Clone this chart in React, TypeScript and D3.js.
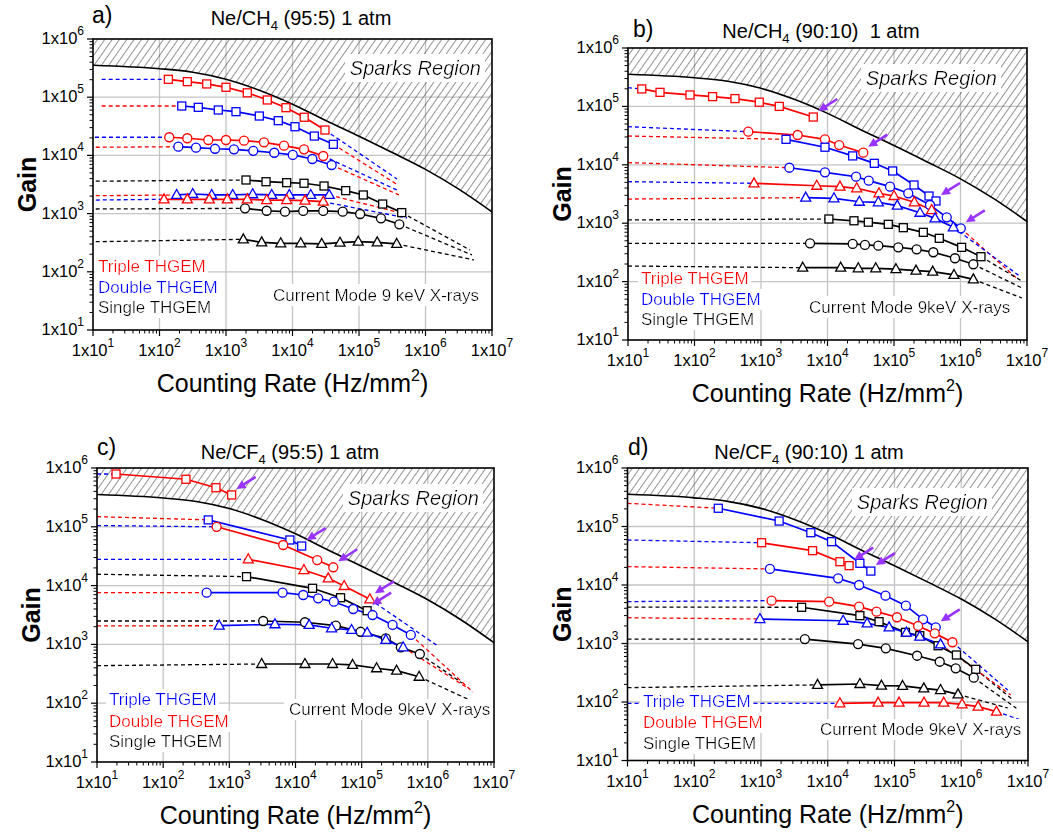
import React from 'react';
import * as d3 from 'd3';

const FONT = "'Liberation Sans', Arial, Helvetica, sans-serif";
const RED = '#ff0000';
const BLUE = '#0000ff';
const BLACK = '#000000';
const PURPLE = '#9933ff';

// spark limit curve (shared by all panels)
const SPARK_X = [10, 100, 316, 1000, 3160, 1e4, 3.16e4, 1e5, 3.16e5, 1e6, 3.16e6, 1e7];
const SPARK_Y = [3.55e5, 3.09e5, 2.69e5, 2.04e5, 1.32e5, 7.59e4, 3.98e4, 2.14e4, 1.12e4, 5.75e3, 2.63e3, 1.07e3];

const X_TICKS = [10, 100, 1e3, 1e4, 1e5, 1e6, 1e7];
const Y_TICKS = [10, 100, 1e3, 1e4, 1e5, 1e6];

// ---------- Panel a : Ne/CH4 (95:5) ----------
const A_TSQ_X = [136, 262, 513, 1000, 2090, 4180, 7980, 15000, 30800];
const A_TSQ_Y = [2.03e5, 1.85e5, 1.69e5, 1.48e5, 1.19e5, 8.96e4, 6.6e4, 4.52e4, 2.73e4];
const A_DSQ_X = [216, 383, 766, 1413, 3170, 6110, 10900, 21300, 41100];
const A_DSQ_Y = [7.06e4, 6.7e4, 6.03e4, 5.64e4, 4.75e4, 3.95e4, 3.11e4, 2.15e4, 1.55e4];
const A_TCI_X = [140, 262, 542, 1000, 1866, 3724, 7450, 14900, 29000];
const A_TCI_Y = [2.05e4, 1.97e4, 1.84e4, 1.84e4, 1.79e4, 1.68e4, 1.47e4, 1.27e4, 9.77e3];
const A_DCI_X = [192, 354, 684, 1318, 2570, 5320, 10100, 19900, 38800];
const A_DCI_Y = [1.41e4, 1.36e4, 1.3e4, 1.27e4, 1.2e4, 1.11e4, 1.02e4, 8.67e3, 6.84e3];
const A_TTR_X = [117, 262, 561, 1047, 2089, 4090, 8180, 15400, 29000];
const A_TTR_Y = [1.76e3, 1.76e3, 1.76e3, 1.76e3, 1.76e3, 1.71e3, 1.71e3, 1.67e3, 1.6e3];
const A_DTR_X = [181, 316, 609, 1262, 2520, 4870, 8950, 18800, 35700];
const A_DTR_Y = [2.09e3, 2.17e3, 2.09e3, 2.09e3, 2.15e3, 2.09e3, 2.09e3, 2.09e3, 2.09e3];
const A_SSQ_X = [2000, 4000, 8180, 14900, 29800, 63100, 116000, 227000, 439000];
const A_SSQ_Y = [3.78e3, 3.53e3, 3.4e3, 3.32e3, 2.98e3, 2.48e3, 2.09e3, 1.46e3, 1.04e3];
const A_SCI_X = [1932, 4090, 7710, 14500, 29000, 56900, 104000, 214000, 404000];
const A_SCI_Y = [1.23e3, 1.12e3, 1.08e3, 1.11e3, 1.11e3, 1.08e3, 984, 830, 655];
const A_STR_X = [1820, 3440, 6650, 13300, 27500, 51800, 97500, 188000, 369000];
const A_STR_Y = [361, 321, 309, 309, 301, 316, 329, 321, 301];

// ---------- Panel b : Ne/CH4 (90:10) ----------
const B_TSQ_X = [16.1, 30.3, 85.5, 187, 406, 942, 1884, 6110];
const B_TSQ_Y = [1.99e5, 1.74e5, 1.57e5, 1.47e5, 1.36e5, 1.18e5, 1.0e5, 6.58e4];
const B_TCI_X = [644, 3560, 9160, 15000, 34500];
const B_TCI_Y = [3.69e4, 3.24e4, 2.73e4, 2.18e4, 1.61e4];
const B_DSQ_X = [2380, 9160, 23900, 50600, 95500, 200000, 336000, 428000];
const B_DSQ_Y = [2.73e4, 2.0e4, 1.42e4, 1.06e4, 7.84e3, 4.51e3, 2.92e3, 2.4e3];
const B_DCI_X = [2670, 9160, 26900, 41700, 87100, 164000, 348000, 621000, 1010000];
const B_DCI_Y = [8.91e3, 7.44e3, 6.25e3, 5.35e3, 4.22e3, 3.25e3, 2.05e3, 1.26e3, 818];
const B_TTR_X = [785, 6890, 15400, 27500, 59400, 100000, 202000, 369000];
const B_TTR_Y = [4.82e3, 4.38e3, 4.22e3, 3.96e3, 3.25e3, 2.92e3, 2.28e3, 1.68e3];
const B_DTR_X = [4700, 12500, 30100, 58100, 112000, 246000, 414000, 780000];
const B_DTR_Y = [2.74e3, 2.67e3, 2.33e3, 2.28e3, 2.0e3, 1.51e3, 1.21e3, 851];
const B_SSQ_X = [10500, 25000, 41100, 82000, 138000, 276000, 480000, 1040000, 2030000];
const B_SSQ_Y = [1.18e3, 1.1e3, 1.04e3, 957, 838, 698, 551, 386, 267];
const B_SCI_X = [5460, 23900, 36600, 58100, 116000, 219000, 390000, 826000, 1560000];
const B_SCI_Y = [453, 441, 424, 412, 387, 357, 318, 251, 198];
const B_STR_X = [4240, 15800, 29000, 53100, 107000, 214000, 382000, 798000, 1560000];
const B_STR_Y = [173, 173, 169, 169, 163, 154, 148, 130, 109];

// ---------- Panel c : Ne/CF4 (95:5) ----------
const C_DSQ_X = [19.4, 221, 628, 1083];
const C_DSQ_Y = [7.91e5, 6.43e5, 4.62e5, 3.48e5];
const C_TSQ_X = [480, 8220, 12400];
const C_TSQ_Y = [1.31e5, 5.97e4, 4.71e4];
const C_DCI_X = [643, 6520, 21300, 37200];
const C_DCI_Y = [1.0e5, 4.9e4, 2.72e4, 2.05e4];
const C_DTR_X = [1930, 13400, 31200, 54400, 133000];
const C_DTR_Y = [2.8e4, 1.84e4, 1.33e4, 9.84e3, 5.85e3];
const C_SSQ_X = [1820, 18100, 48000, 121000];
const C_SSQ_Y = [1.42e4, 9.0e3, 6.22e3, 3.74e3];
const C_TCI_X = [454, 6380, 13100, 22000, 38000, 74500, 146000, 293000, 553000];
const C_TCI_Y = [7.57e3, 7.57e3, 6.92e3, 6.08e3, 5.32e3, 4.0e3, 3.16e3, 2.14e3, 1.45e3];
const C_TTR_X = [703, 4890, 16100, 35100, 70300, 121000, 232000, 424000];
const C_TTR_Y = [2.08e3, 2.2e3, 2.14e3, 1.88e3, 1.76e3, 1.58e3, 1.19e3, 893];
const C_SCI_X = [3250, 13900, 40700, 96200, 232000, 391000, 757000];
const C_SCI_Y = [2.5e3, 2.38e3, 2.08e3, 1.64e3, 1.27e3, 893, 687];
const C_STR_X = [3080, 13900, 36300, 72900, 168000, 337000, 739000];
const C_STR_Y = [464, 464, 464, 447, 393, 357, 282];

// ---------- Panel d : Ne/CF4 (90:10) ----------
const D_TSQ_X = [229, 1870, 5580, 11400, 30300, 44200];
const D_TSQ_Y = [2.05e5, 1.24e5, 7.83e4, 5.5e4, 2.35e4, 1.73e4];
const D_DSQ_X = [1020, 5920, 15200, 20900];
const D_DSQ_Y = [5.28e4, 3.86e4, 2.5e4, 2.14e4];
const D_TCI_X = [1360, 14300, 29500, 73300, 148000, 268000, 415000];
const D_TCI_Y = [1.88e4, 1.3e4, 1.0e4, 6.56e3, 4.43e3, 2.59e3, 1.89e3];
const D_DCI_X = [1440, 10500, 29500, 53800, 109000, 226000, 401000, 738000];
const D_DCI_Y = [5.4e3, 5.19e3, 4.26e3, 3.5e3, 2.81e3, 1.99e3, 1.49e3, 1.05e3];
const D_SSQ_X = [4060, 30300, 58700, 146000, 239000, 450000, 847000, 1650000];
const D_SSQ_Y = [4.16e3, 2.99e3, 2.36e3, 1.55e3, 1.36e3, 916, 636, 362];
const D_TTR_X = [964, 17000, 38900, 83000, 151000, 239000, 489000];
const D_TTR_Y = [2.62e3, 2.45e3, 2.21e3, 1.89e3, 1.53e3, 1.31e3, 968];
const D_SCI_X = [4540, 28500, 74100, 218000, 476000, 827000, 1540000];
const D_SCI_Y = [1.19e3, 979, 827, 618, 488, 377, 260];
const D_STR_X = [7030, 30300, 63800, 132000, 275000, 489000, 895000];
const D_STR_Y = [196, 203, 190, 188, 171, 160, 135];
const D_DTR_X = [15200, 56800, 117000, 277000, 547000, 1030000, 1790000, 3370000];
const D_DTR_Y = [95.1, 97.3, 97.3, 97.3, 97.3, 91.4, 83.2, 68.3];

type Pt = [number, number] | null;
interface Series {
  x: number[]; y: number[]; color: string; marker: 'sq' | 'ci' | 'tr';
  left: Pt; leftColor: string; right: Pt; rightColor: string; arrow: boolean;
}
const other = (c: string) => (c === RED ? BLUE : c === BLUE ? RED : BLACK);
function S(x: number[], y: number[], color: string, marker: 'sq' | 'ci' | 'tr', left: Pt, right: Pt, arrow = false, rightColor?: string): Series {
  return { x, y, color, marker, left, leftColor: other(color), right, rightColor: rightColor || other(color), arrow };
}

const SERIES_A: Series[] = [
  S(A_TSQ_X, A_TSQ_Y, RED, 'sq', [13.5, 2.03e5], [3.72e5, 3.94e3]),
  S(A_DSQ_X, A_DSQ_Y, BLUE, 'sq', [13.5, 7.06e4], [3.85e5, 3.1e3]),
  S(A_TCI_X, A_TCI_Y, RED, 'ci', [10.7, 2.05e4], [3.72e5, 2.54e3]),
  S(A_DCI_X, A_DCI_Y, BLUE, 'ci', [11, 1.38e4], [4.0e5, 2.09e3]),
  S(A_SSQ_X, A_SSQ_Y, BLACK, 'sq', [11, 3.6e3], [4.67e6, 237]),
  S(A_SCI_X, A_SCI_Y, BLACK, 'ci', [11, 1.2e3], [5.0e6, 195]),
  S(A_STR_X, A_STR_Y, BLACK, 'tr', [11, 329], [5.36e6, 160]),
  S(A_DTR_X, A_DTR_Y, BLUE, 'tr', [11, 2.03e3], [4.92e5, 984]),
  S(A_TTR_X, A_TTR_Y, RED, 'tr', [11, 1.71e3], [5.27e5, 840]),
];
const SERIES_B: Series[] = [
  S(B_TSQ_X, B_TSQ_Y, RED, 'sq', [10, 2.09e5], null, true),
  S(B_TCI_X, B_TCI_Y, RED, 'ci', [10, 4.49e4], null, true),
  S(B_DSQ_X, B_DSQ_Y, BLUE, 'sq', [10, 3.11e4], null, true),
  S(B_DCI_X, B_DCI_Y, BLUE, 'ci', [10, 1.09e4], [7.19e6, 111], true),
  S(B_TTR_X, B_TTR_Y, RED, 'tr', [10, 5.14e3], null),
  S(B_DTR_X, B_DTR_Y, BLUE, 'tr', [10, 2.59e3], [7.71e6, 125], false, BLUE),
  S(B_SSQ_X, B_SSQ_Y, BLACK, 'sq', [10, 1.14e3], [8.41e6, 102]),
  S(B_SCI_X, B_SCI_Y, BLACK, 'ci', [10, 453], [8.41e6, 77.6]),
  S(B_STR_X, B_STR_Y, BLACK, 'tr', [10, 185], [8.41e6, 52.4]),
];
const SERIES_C: Series[] = [
  S(C_DSQ_X, C_DSQ_Y, RED, 'sq', [10, 7.9e5], null, true),
  S(C_TSQ_X, C_TSQ_Y, BLUE, 'sq', [10, 1.49e5], null, true),
  S(C_DCI_X, C_DCI_Y, RED, 'ci', [10, 1.05e5], null, true),
  S(C_DTR_X, C_DTR_Y, RED, 'tr', [10, 2.8e4], [1.35e6, 977], true),
  S(C_SSQ_X, C_SSQ_Y, BLACK, 'sq', [10, 1.56e4], null, true),
  S(C_TCI_X, C_TCI_Y, BLUE, 'ci', [10, 7.57e3], [4.79e6, 155]),
  S(C_SCI_X, C_SCI_Y, BLACK, 'ci', [10, 2.5e3], [3.27e6, 221]),
  S(C_TTR_X, C_TTR_Y, BLUE, 'tr', [10, 2.06e3], [4.02e6, 181]),
  S(C_STR_X, C_STR_Y, BLACK, 'tr', [10, 435], [4.31e6, 113]),
];
const SERIES_D: Series[] = [
  S(D_TSQ_X, D_TSQ_Y, BLUE, 'sq', [10, 2.49e5], null, true),
  S(D_DSQ_X, D_DSQ_Y, RED, 'sq', [10, 5.88e4], null, true),
  S(D_TCI_X, D_TCI_Y, BLUE, 'ci', [10, 2.06e4], null, true),
  S(D_DCI_X, D_DCI_Y, RED, 'ci', [10, 5.2e3], [4.97e6, 160]),
  S(D_SSQ_X, D_SSQ_Y, BLACK, 'sq', [10, 4.2e3], [5.97e6, 108]),
  S(D_TTR_X, D_TTR_Y, BLUE, 'tr', [10, 2.76e3], [5.51e6, 132]),
  S(D_SCI_X, D_SCI_Y, BLACK, 'ci', [10, 1.19e3], [6.7e6, 78]),
  S(D_STR_X, D_STR_Y, BLACK, 'tr', [10, 176], [4.97e6, 79]),
  S(D_DTR_X, D_DTR_Y, RED, 'tr', [10, 95], [7.83e6, 49.2]),
];

const LEG_RBK = [['Triple THGEM', RED], ['Double THGEM', BLUE], ['Single THGEM', BLACK]];
const LEG_BRK = [['Triple THGEM', BLUE], ['Double THGEM', RED], ['Single THGEM', BLACK]];

interface PanelCfg {
  id: string; x0: number; x1: number; y0: number; y1: number;
  label: string; labelX: number; labelY: number;
  gas: string; sub: string; rest: string; titleX: number; titleY: number;
  sparkRight: number; sparkY: number;
  legX: number; legY: number[]; legend: string[][];
  noteX: number; noteY: number; note: string;
  series: Series[];
}

const PANELS: PanelCfg[] = [
  { id: 'a', x0: 93, x1: 492, y0: 39, y1: 330, label: 'a)', labelX: 92, labelY: 23,
    gas: 'Ne/CH', sub: '4', rest: ' (95:5) 1 atm', titleX: 301, titleY: 24.5,
    sparkRight: 481, sparkY: 75, legX: 98, legY: [272, 293, 313], legend: LEG_RBK,
    noteX: 273, noteY: 300.5, note: 'Current Mode 9 keV X-rays', series: SERIES_A },
  { id: 'b', x0: 628, x1: 1027, y0: 48, y1: 340, label: 'b)', labelX: 633, labelY: 37,
    gas: 'Ne/CH', sub: '4', rest: ' (90:10)  1 atm', titleX: 821, titleY: 38,
    sparkRight: 997, sparkY: 85, legX: 641, legY: [284, 305, 325], legend: LEG_RBK,
    noteX: 809, noteY: 312.5, note: 'Current Mode 9keV X-rays', series: SERIES_B },
  { id: 'c', x0: 97, x1: 494, y0: 468, y1: 762, label: 'c)', labelX: 97, labelY: 455,
    gas: 'Ne/CF', sub: '4', rest: ' (95:5) 1 atm', titleX: 290, titleY: 459,
    sparkRight: 479, sparkY: 505, legX: 109, legY: [705, 727, 747], legend: LEG_BRK,
    noteX: 289, noteY: 715, note: 'Current Mode 9keV X-rays', series: SERIES_C },
  { id: 'd', x0: 627.5, x1: 1028, y0: 468, y1: 760.5, label: 'd)', labelX: 628, labelY: 455,
    gas: 'Ne/CF', sub: '4', rest: ' (90:10) 1 atm', titleX: 809, titleY: 459,
    sparkRight: 988, sparkY: 509, legX: 643, legY: [707, 728, 749], legend: LEG_BRK,
    noteX: 820, noteY: 735, note: 'Current Mode 9keV X-rays', series: SERIES_D },
];

function Marker({ kind, cx, cy, color }: { kind: string; cx: number; cy: number; color: string }) {
  const common = { fill: '#fff', stroke: color, strokeWidth: 1.3 };
  if (kind === 'sq') return <rect x={cx - 4} y={cy - 4} width={8} height={8} {...common} />;
  if (kind === 'ci') return <circle cx={cx} cy={cy} r={4.5} {...common} />;
  return <path d={`M${cx},${cy - 5.5}L${cx + 5},${cy + 3.5}L${cx - 5},${cy + 3.5}Z`} {...common} />;
}

function Arrow({ px, py }: { px: number; py: number }) {
  const tx = px + 5, ty = py - 6;
  const sx = tx + 19, sy = ty - 12;
  const dx = tx - sx, dy = ty - sy;
  const len = Math.hypot(dx, dy);
  const ux = dx / len, uy = dy / len;
  const hl = 9, hw = 4.5;
  const bx = tx - ux * hl, by = ty - uy * hl;
  return (
    <g>
      <line x1={sx} y1={sy} x2={bx + ux} y2={by + uy} stroke={PURPLE} strokeWidth={2.6} />
      <path d={`M${tx},${ty}L${bx - uy * hw},${by + ux * hw}L${bx + uy * hw},${by - ux * hw}Z`} fill={PURPLE} />
    </g>
  );
}

function Panel({ p }: { p: PanelCfg }) {
  const xs = d3.scaleLog().domain([10, 1e7]).range([p.x0, p.x1]);
  const ys = d3.scaleLog().domain([10, 1e6]).range([p.y1, p.y0]);
  const clipId = 'clip-' + p.id;
  const sparkPts: [number, number][] = SPARK_X.map((x, i) => [xs(x), ys(SPARK_Y[i])]);
  const curvePath = d3.line().curve(d3.curveMonotoneX)(sparkPts) as string;
  const hatchPath = `${curvePath}L${p.x1},${p.y0}L${p.x0},${p.y0}Z`;

  const minorX: number[] = [];
  for (let e = 1; e < 7; e++) for (let k = 2; k <= 9; k++) minorX.push(k * Math.pow(10, e));
  const minorY: number[] = [];
  for (let e = 1; e < 6; e++) for (let k = 2; k <= 9; k++) minorY.push(k * Math.pow(10, e));

  const line = d3.line<number>();
  const gridColor = '#c4c4c4';
  return (
    <g>
      <defs>
        <clipPath id={clipId}>
          <rect x={p.x0} y={p.y0} width={p.x1 - p.x0} height={p.y1 - p.y0} />
        </clipPath>
      </defs>
      {/* grid */}
      {X_TICKS.slice(1, -1).map((t) => (
        <line key={'gx' + t} x1={xs(t)} x2={xs(t)} y1={p.y0} y2={p.y1} stroke={gridColor} strokeWidth={1.3} />
      ))}
      {Y_TICKS.slice(1, -1).map((t) => (
        <line key={'gy' + t} x1={p.x0} x2={p.x1} y1={ys(t)} y2={ys(t)} stroke={gridColor} strokeWidth={1.3} />
      ))}
      {/* sparks region */}
      <g clipPath={`url(#${clipId})`}>
        <path d={hatchPath} fill="url(#hatch)" stroke="none" />
        <path d={curvePath} fill="none" stroke="#000" strokeWidth={1.6} />
        {/* extensions */}
        {p.series.map((s, i) => (
          <g key={'ext' + i}>
            {s.left && (
              <line x1={xs(s.left[0])} y1={ys(s.left[1])} x2={xs(s.x[0])} y2={ys(s.y[0])}
                stroke={s.leftColor} strokeWidth={1.3} strokeDasharray="4,3" />
            )}
            {s.right && (
              <line x1={xs(s.x[s.x.length - 1])} y1={ys(s.y[s.y.length - 1])} x2={xs(s.right[0])} y2={ys(s.right[1])}
                stroke={s.rightColor} strokeWidth={1.3} strokeDasharray="4,3" />
            )}
          </g>
        ))}
      </g>
      {/* sparks label */}
      <text x={p.sparkRight} y={p.sparkY} textAnchor="end" fontSize={20} fontStyle="italic" filter="url(#wbg2)">Sparks Region</text>
      {/* legend and note */}
      {p.legend.map((l, i) => (
        <text key={'lg' + i} x={p.legX} y={p.legY[i]} fontSize={17} fill={l[1]} filter="url(#wbg)">{l[0]}</text>
      ))}
      <text x={p.noteX} y={p.noteY} fontSize={17} fill="#000" filter="url(#wbg)">{p.note}</text>
      {/* data lines */}
      <g clipPath={`url(#${clipId})`}>
        {p.series.map((s, i) => (
          <path key={'ln' + i} d={line.x((_, j) => xs(s.x[j])).y((_, j) => ys(s.y[j]))(s.x) as string}
            fill="none" stroke={s.color} strokeWidth={1.7} />
        ))}
        {p.series.map((s, i) => (
          <g key={'mk' + i}>
            {s.x.map((xv, j) => (
              <Marker key={j} kind={s.marker} cx={xs(xv)} cy={ys(s.y[j])} color={s.color} />
            ))}
          </g>
        ))}
      </g>
      {p.series.filter((s) => s.arrow).map((s, i) => (
        <Arrow key={'ar' + i} px={xs(s.x[s.x.length - 1])} py={ys(s.y[s.y.length - 1])} />
      ))}
      {/* frame */}
      <rect x={p.x0} y={p.y0} width={p.x1 - p.x0} height={p.y1 - p.y0} fill="none" stroke="#000" strokeWidth={1.6} />
      {/* ticks */}
      {X_TICKS.map((t) => (
        <line key={'tx' + t} x1={xs(t)} x2={xs(t)} y1={p.y1} y2={p.y1 + 6} stroke="#000" strokeWidth={1.2} />
      ))}
      {minorX.map((t) => (
        <line key={'mx' + t} x1={xs(t)} x2={xs(t)} y1={p.y1} y2={p.y1 + 3.5} stroke="#000" strokeWidth={1} />
      ))}
      {Y_TICKS.map((t) => (
        <line key={'ty' + t} x1={p.x0 - 6} x2={p.x0} y1={ys(t)} y2={ys(t)} stroke="#000" strokeWidth={1.2} />
      ))}
      {minorY.map((t) => (
        <line key={'my' + t} x1={p.x0 - 3.5} x2={p.x0} y1={ys(t)} y2={ys(t)} stroke="#000" strokeWidth={1} />
      ))}
      {/* tick labels */}
      {X_TICKS.map((t) => (
        <text key={'lx' + t} x={xs(t)} y={p.y1 + 26} textAnchor="middle" fontSize={16.5}>
          <tspan>1x10</tspan>
          <tspan dy={-9} fontSize={12}>{Math.round(Math.log10(t))}</tspan>
        </text>
      ))}
      {Y_TICKS.map((t) => (
        <text key={'ly' + t} x={p.x0 - 9} y={ys(t) + 5} textAnchor="end" fontSize={16.5}>
          <tspan>1x10</tspan>
          <tspan dy={-9} fontSize={12}>{Math.round(Math.log10(t))}</tspan>
        </text>
      ))}
      {/* axis titles */}
      <text x={(p.x0 + p.x1) / 2} y={p.y1 + 62} textAnchor="middle" fontSize={25}>
        <tspan>Counting Rate (Hz/mm</tspan>
        <tspan dy={-11} fontSize={16}>2</tspan>
        <tspan dy={11}>)</tspan>
      </text>
      <text transform={`translate(${p.x0 - 57},${(p.y0 + p.y1) / 2}) rotate(-90)`} textAnchor="middle" fontSize={25} fontWeight="bold">Gain</text>
      {/* panel label & title */}
      <text x={p.labelX} y={p.labelY} fontSize={23}>{p.label}</text>
      <text x={p.titleX} y={p.titleY} textAnchor="middle" fontSize={20} style={{ whiteSpace: 'pre' }}>
        <tspan>{p.gas}</tspan>
        <tspan dy={5} fontSize={13}>{p.sub}</tspan>
        <tspan dy={-5}>{p.rest}</tspan>
      </text>
    </g>
  );
}

export default function App() {
  return (
    <svg width={1053} height={833} style={{ position: 'absolute', left: 0, top: 0, display: 'block' }} fontFamily={FONT}>
      <defs>
        <pattern id="hatch" width={6} height={6} patternUnits="userSpaceOnUse" patternTransform="rotate(35)">
          <line x1={0} y1={0} x2={0} y2={6} stroke="#3a3a3a" strokeWidth={1.1} />
        </pattern>
        <filter id="wbg" x="-0.02" y="-0.05" width="1.04" height="1.1">
          <feFlood floodColor="#fff" result="bg" />
          <feMerge>
            <feMergeNode in="bg" />
            <feMergeNode in="SourceGraphic" />
          </feMerge>
        </filter>
        <filter id="wbg2" x="-0.03" y="-0.1" width="1.06" height="1.2">
          <feFlood floodColor="#fff" result="bg" />
          <feMerge>
            <feMergeNode in="bg" />
            <feMergeNode in="SourceGraphic" />
          </feMerge>
        </filter>
      </defs>
      <rect x={0} y={0} width={1053} height={833} fill="#fff" />
      {PANELS.map((p) => (
        <Panel key={p.id} p={p} />
      ))}
    </svg>
  );
}
